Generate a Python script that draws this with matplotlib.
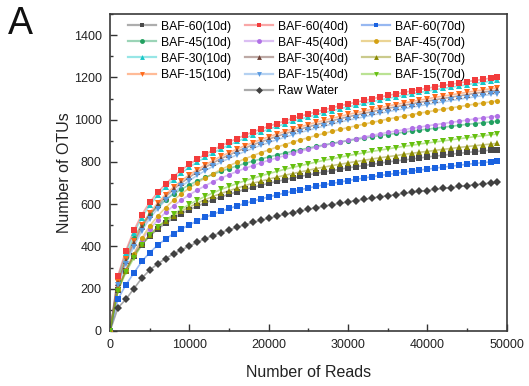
import matplotlib
matplotlib.use('Agg')
import matplotlib.pyplot as plt
from matplotlib.lines import Line2D
from matplotlib.ticker import MultipleLocator

plt.rcParams['font.family'] = ['Liberation Sans', 'DejaVu Sans']

# sequencing depth (reads) of each rarefaction point
reads = [0] + list(range(1000, 49000, 1000)) + [48800]

# OTU counts
baf60_10d = [0, 196, 286, 357, 409, 449, 482, 510, 534, 555, 574, 591, 607, 621, 635, 647, 659, 670, 680, 690, 699, 708, 716, 724, 732, 739, 746, 753, 759, 766, 772, 778, 783, 789, 794, 800, 805, 809, 814, 819, 824, 828, 832, 837, 841, 845, 849, 853, 856, 859]
baf60_40d = [0, 262, 381, 476, 551, 609, 656, 696, 731, 762, 789, 814, 836, 857, 877, 894, 911, 927, 942, 956, 969, 982, 994, 1006, 1017, 1027, 1038, 1047, 1057, 1066, 1075, 1083, 1091, 1099, 1107, 1115, 1122, 1129, 1136, 1143, 1149, 1156, 1162, 1168, 1174, 1180, 1186, 1191, 1197, 1201]
baf60_70d = [0, 151, 219, 274, 329, 371, 406, 435, 461, 483, 503, 521, 538, 553, 567, 580, 592, 604, 615, 625, 635, 644, 653, 661, 669, 677, 685, 692, 699, 705, 712, 718, 724, 730, 736, 741, 746, 752, 757, 762, 766, 771, 776, 780, 785, 789, 793, 797, 801, 804]
baf45_10d = [0, 240, 350, 440, 505, 552, 590, 621, 648, 671, 692, 710, 727, 742, 756, 769, 781, 793, 804, 814, 824, 833, 842, 850, 858, 866, 874, 881, 888, 894, 901, 907, 913, 919, 925, 930, 935, 941, 946, 951, 955, 960, 965, 969, 974, 978, 982, 986, 990, 993]
baf45_40d = [0, 199, 290, 362, 430, 482, 525, 561, 593, 620, 645, 667, 688, 707, 724, 740, 755, 770, 783, 796, 808, 819, 830, 841, 851, 860, 870, 878, 887, 895, 903, 911, 918, 926, 933, 940, 946, 952, 959, 965, 971, 977, 982, 988, 993, 998, 1004, 1009, 1014, 1018]
baf45_70d = [0, 200, 291, 364, 439, 497, 544, 584, 619, 650, 677, 702, 724, 745, 765, 782, 799, 815, 830, 844, 857, 870, 882, 894, 905, 915, 926, 935, 945, 954, 963, 971, 979, 987, 995, 1003, 1010, 1017, 1024, 1031, 1037, 1044, 1050, 1056, 1062, 1068, 1074, 1079, 1085, 1089]
baf30_10d = [0, 254, 370, 462, 537, 595, 642, 682, 717, 748, 775, 800, 822, 843, 863, 880, 897, 913, 928, 942, 955, 968, 980, 992, 1003, 1013, 1024, 1033, 1043, 1052, 1061, 1069, 1077, 1085, 1093, 1101, 1108, 1115, 1122, 1129, 1135, 1142, 1148, 1154, 1160, 1166, 1172, 1177, 1183, 1187]
baf30_40d = [0, 228, 332, 415, 490, 548, 595, 635, 670, 701, 728, 753, 775, 796, 816, 833, 850, 866, 881, 895, 908, 921, 933, 945, 956, 966, 977, 986, 996, 1005, 1014, 1022, 1030, 1038, 1046, 1054, 1061, 1068, 1075, 1082, 1088, 1095, 1101, 1107, 1113, 1119, 1125, 1130, 1136, 1140]
baf30_70d = [0, 197, 286, 358, 413, 455, 490, 519, 545, 567, 587, 605, 622, 637, 651, 664, 676, 688, 699, 709, 719, 728, 737, 745, 753, 761, 769, 776, 783, 789, 796, 802, 808, 814, 820, 825, 830, 836, 841, 846, 850, 855, 860, 864, 869, 873, 877, 881, 885, 888]
baf15_10d = [0, 234, 341, 426, 501, 559, 606, 646, 681, 712, 739, 764, 786, 807, 827, 844, 861, 877, 892, 906, 919, 932, 944, 956, 967, 977, 988, 997, 1007, 1016, 1025, 1033, 1041, 1049, 1057, 1065, 1072, 1079, 1086, 1093, 1099, 1106, 1112, 1118, 1124, 1130, 1136, 1141, 1147, 1151]
baf15_40d = [0, 219, 319, 399, 474, 532, 579, 619, 654, 685, 712, 737, 759, 780, 800, 817, 834, 850, 865, 879, 892, 905, 917, 929, 940, 950, 961, 970, 980, 989, 998, 1006, 1014, 1022, 1030, 1038, 1045, 1052, 1059, 1066, 1072, 1079, 1085, 1091, 1097, 1103, 1109, 1114, 1120, 1124]
baf15_70d = [0, 190, 277, 346, 407, 454, 492, 524, 552, 577, 599, 619, 637, 654, 670, 684, 698, 711, 723, 734, 745, 755, 765, 774, 783, 791, 800, 808, 815, 823, 830, 837, 843, 850, 856, 862, 868, 874, 879, 885, 890, 895, 900, 905, 910, 915, 920, 924, 929, 932]
raw_water = [0, 110, 150, 200, 250, 288, 318, 343, 365, 384, 402, 420, 437, 452, 466, 479, 491, 503, 514, 524, 534, 543, 552, 560, 568, 576, 584, 591, 598, 604, 611, 617, 623, 629, 635, 640, 645, 651, 656, 661, 665, 670, 675, 679, 684, 688, 692, 696, 700, 703]

series = [
    ('BAF-60(10d)', baf60_10d, '#4a4a4a', 's'),
    ('BAF-45(10d)', baf45_10d, '#22a060', 'o'),
    ('BAF-30(10d)', baf30_10d, '#18c8c8', '^'),
    ('BAF-15(10d)', baf15_10d, '#ff6a1a', 'v'),
    ('BAF-60(40d)', baf60_40d, '#f23c3c', 's'),
    ('BAF-45(40d)', baf45_40d, '#b070e6', 'o'),
    ('BAF-30(40d)', baf30_40d, '#6e4238', '^'),
    ('BAF-15(40d)', baf15_40d, '#5a9ae0', 'v'),
    ('Raw Water', raw_water, '#404040', 'D'),
    ('BAF-60(70d)', baf60_70d, '#1a62e0', 's'),
    ('BAF-45(70d)', baf45_70d, '#d4a012', 'o'),
    ('BAF-30(70d)', baf30_70d, '#8a8a00', '^'),
    ('BAF-15(70d)', baf15_70d, '#66c010', 'v'),
]

fig = plt.figure(figsize=(5.29, 3.86), dpi=100)
ax = fig.add_axes([0.208, 0.1425, 0.75, 0.821])

handles = {}
for name, vals, col, mk in series:
    ax.plot(reads, vals, color=col, alpha=0.45, lw=1.2, zorder=2)
    ax.plot(reads, vals, linestyle='none', marker=mk, ms=3.7, color=col,
            markeredgewidth=0, zorder=3)
    handles[name] = Line2D([], [], color=col, lw=1.6, alpha=0.45)
    handles[name + '_m'] = Line2D([], [], linestyle='none', marker=mk, ms=3.5,
                                  color=col, markeredgewidth=0)

blank = Line2D([], [], linestyle='none')
order = ['BAF-60(10d)', 'BAF-45(10d)', 'BAF-30(10d)', 'BAF-15(10d)', None,
         'BAF-60(40d)', 'BAF-45(40d)', 'BAF-30(40d)', 'BAF-15(40d)', 'Raw Water',
         'BAF-60(70d)', 'BAF-45(70d)', 'BAF-30(70d)', 'BAF-15(70d)', None]
leg_h, leg_l = [], []
for k in order:
    if k is None:
        leg_h.append(blank)
        leg_l.append('')
    else:
        leg_h.append((handles[k], handles[k + '_m']))
        leg_l.append(k)

ax.legend(leg_h, leg_l, ncol=3, loc='upper left', bbox_to_anchor=(0.02, 1.01),
          frameon=False, fontsize=8.8, handlelength=2.3, handletextpad=0.4,
          columnspacing=1.15, labelspacing=0.33, borderpad=0.3)

ax.set_xlim(0, 50000)
ax.set_ylim(0, 1500)
ax.xaxis.set_major_locator(MultipleLocator(10000))
ax.xaxis.set_minor_locator(MultipleLocator(5000))
ax.yaxis.set_major_locator(MultipleLocator(200))
ax.yaxis.set_minor_locator(MultipleLocator(100))
ax.tick_params(which='both', direction='in', top=False, right=False,
               colors='#333333', labelcolor='#222222', labelsize=9)
ax.tick_params(which='major', length=5, width=1.0, pad=6)
ax.tick_params(which='minor', length=2.5, width=1.0)
for sp in ax.spines.values():
    sp.set_color('#3a3a3a')
    sp.set_linewidth(1.2)

ax.set_xlabel('Number of Reads', fontsize=11.5, color='#222222', labelpad=9.5)
ax.set_ylabel('Number of OTUs', fontsize=11.5, color='#222222', labelpad=1)

fig.text(0.015, 0.985, 'A', fontsize=27, va='top', ha='left', color='#111111')

fig.savefig('out.png', dpi=100)
